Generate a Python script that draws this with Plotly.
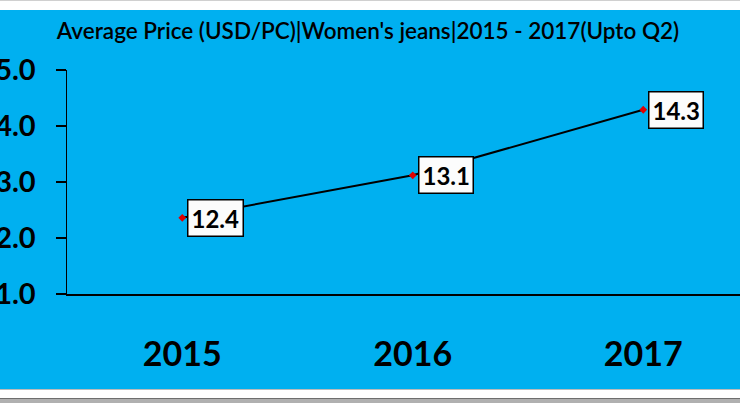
import plotly.graph_objects as go

# ---- data ----
years = ["2015", "2016", "2017"]
avg_price = [12.36, 13.12, 14.29]
y_ticks = [11, 12, 13, 14, 15]
y_tick_labels = [f"{v:.1f}" for v in y_ticks]
title_text = "Average Price (USD/PC)|Women's jeans|2015 - 2017(Upto Q2)"

# ---- layout geometry (page px) ----
W, H = 740, 403
left_px, top_px, bottom_px = 67, 70, 294
ML, MT, MB, MR = left_px, top_px, H - bottom_px, 0
plot_w = W - ML - MR
plot_h = H - MT - MB
cat_step = 230.5
x_range = [-0.5, -0.5 + plot_w / cat_step]

def px(p):
    return (p - ML) / plot_w

def py(p):
    return (bottom_px - p) / plot_h

BLUE = "#00B0F0"
FONT = "Lato"

fig = go.Figure()
fig.add_trace(go.Scatter(
    x=years, y=avg_price, mode="lines+markers",
    line=dict(color="black", width=2),
    marker=dict(symbol="diamond", size=6, color="#E00000"),
    cliponaxis=False, showlegend=False, hoverinfo="skip",
))

annotations = []
for i, v in enumerate(avg_price):
    annotations.append(dict(
        x=i, y=v, xref="x", yref="y", text=f"{v:.1f}", showarrow=False,
        xanchor="left", yanchor="middle", xshift=5,
        bgcolor="#FCFCFC", bordercolor="black", borderwidth=1.5, borderpad=3,
        font=dict(family=FONT, size=24, color="black", weight="bold"),
    ))

shapes = [
    dict(type="rect", xref="paper", yref="paper", x0=px(0), x1=px(W), y0=py(389), y1=py(10),
         fillcolor=BLUE, line=dict(width=0), layer="below"),
    dict(type="line", xref="paper", yref="paper", x0=px(0), x1=px(W), y0=py(0.5), y1=py(0.5),
         line=dict(color="#D0D0D0", width=1), layer="below"),
    dict(type="line", xref="paper", yref="paper", x0=px(0), x1=px(W), y0=py(389.5), y1=py(389.5),
         line=dict(color="#BBBBBB", width=1), layer="below"),
    dict(type="line", xref="paper", yref="paper", x0=px(0), x1=px(W), y0=py(398.5), y1=py(398.5),
         line=dict(color="#6E6E6E", width=1), layer="below"),
    dict(type="rect", xref="paper", yref="paper", x0=px(0), x1=px(W), y0=py(403), y1=py(399),
         fillcolor="#B0B0B0", line=dict(width=0), layer="below"),
]

fig.update_layout(
    width=W, height=H,
    margin=dict(l=ML, r=MR, t=MT, b=MB, pad=0),
    paper_bgcolor="white", plot_bgcolor="rgba(0,0,0,0)",
    template="none",
    title=dict(text=title_text, x=368 / W, xref="container", xanchor="center",
               y=1 - 31 / H, yref="container", yanchor="middle",
               font=dict(family=FONT, size=22.5, color="black", weight=600)),
    shapes=shapes, annotations=annotations,
    xaxis=dict(type="category", range=x_range, showline=True, linecolor="black", linewidth=1.5,
               ticks="", showgrid=False, zeroline=False, automargin=False,
               tickfont=dict(family=FONT, size=34, color="black", weight="bold"),
               ticklabelstandoff=30),
    yaxis=dict(range=[11, 15], tickvals=y_ticks, ticktext=y_tick_labels,
               ticks="outside", ticklen=10, tickwidth=1.5, tickcolor="black",
               showline=True, linecolor="black", linewidth=1.5,
               showgrid=False, zeroline=False, automargin=False,
               tickfont=dict(family=FONT, size=29, color="black", weight="bold"),
               ticklabelstandoff=14),
)

fig.write_html("out.html",
               config={"displayModeBar": False, "staticPlot": True},
               post_script="document.body.style.margin='0';document.body.style.overflow='hidden';")
